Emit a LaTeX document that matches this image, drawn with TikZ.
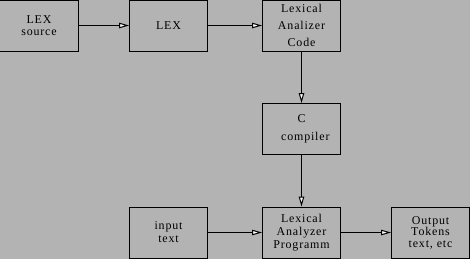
\documentclass[tikz,border=0pt]{standalone}
\usepackage{fontspec}
\setmainfont[LetterSpace=7]{Liberation Serif}
\usetikzlibrary{arrows.meta}
\definecolor{bg}{RGB}{179,179,179}
\tikzset{
  blk/.style={draw=black, line width=1bp, minimum width=78bp, minimum height=51bp, inner sep=0pt, align=center, font=\fontsize{12}{13}\selectfont},
  conn/.style={draw=black, line width=1bp, -{Triangle[length=10bp,width=5.5bp,fill=white]}}
}
\begin{document}
\begin{tikzpicture}[x=1bp,y=-1bp]
\fill[bg] (0,0) rectangle (470,259);
\useasboundingbox (0,0) rectangle (470,259);
\node[blk] (src) at (39,25.5) {LEX\\[-1bp]source};
\node[blk] (lex) at (168.5,25.5) {LEX};
\node[blk, font=\fontsize{12}{17}\selectfont] (code) at (301.5,25.5) {Lexical\\Analizer\\Code};
\node[blk, font=\fontsize{12}{18}\selectfont] (cc) at (301.5,129) {C\\ \ \ compiler};
\node[blk] (in) at (168.5,232.5) {input\\text};
\node[blk] (prog) at (301.5,232.5) {Lexical\\Analyzer\\Programm};
\node[blk, font=\fontsize{12}{11.5}\selectfont] (out) at (430.5,232.5) {Output\\Tokens\\text, etc};
\draw[conn] (src.east) -- (lex.west);
\draw[conn] (lex.east) -- (code.west);
\draw[conn] (code.south) -- (cc.north);
\draw[conn] (cc.south) -- (prog.north);
\draw[conn] (in.east) -- (prog.west);
\draw[conn] (prog.east) -- (out.west);
\end{tikzpicture}
\end{document}
